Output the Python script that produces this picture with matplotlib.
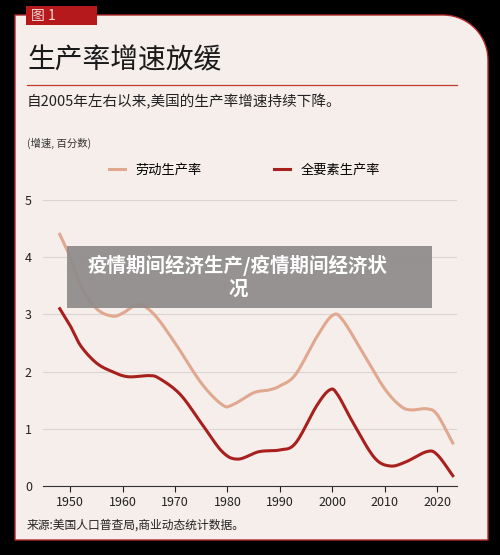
import matplotlib.pyplot as plt
from matplotlib.patches import PathPatch, Rectangle
from matplotlib.path import Path
import numpy as np

plt.rcParams['font.family'] = ['Noto Sans CJK SC', 'DejaVu Sans']

labor_years = [1948, 1950, 1952, 1955, 1958, 1960, 1963, 1966, 1970, 1975, 1979, 1981,
               1985, 1988, 1990, 1993, 1997, 2000, 2002, 2006, 2010, 2013, 2015, 2018, 2020, 2023]
labor_vals = [4.4, 4.0, 3.5, 3.1, 2.97, 3.02, 3.17, 3.0, 2.5, 1.8, 1.42, 1.42,
              1.63, 1.68, 1.75, 1.95, 2.6, 2.98, 2.9, 2.3, 1.7, 1.4, 1.33, 1.35, 1.25, 0.75]
tfp_years = [1948, 1950, 1952, 1955, 1958, 1961, 1965, 1967, 1971, 1975, 1979, 1982,
             1986, 1990, 1993, 1997, 1999.5, 2001, 2004, 2008, 2011, 2014, 2018, 2020, 2023]
tfp_vals = [3.1, 2.8, 2.45, 2.15, 2.0, 1.91, 1.93, 1.88, 1.6, 1.1, 0.6, 0.47,
            0.6, 0.63, 0.75, 1.4, 1.68, 1.6, 1.1, 0.5, 0.35, 0.42, 0.6, 0.55, 0.18]
xticks = [1950, 1960, 1970, 1980, 1990, 2000, 2010, 2020]

labor_c = '#e0a88f'
tfp_c = '#a8201e'
bg = '#f6eeeb'


def smooth(xs, ys, n=12):
    # catmull-rom through the read points, only for drawing a soft curve
    p = np.column_stack([xs, ys]).astype(float)
    p = np.vstack([p[0], p, p[-1]])
    out = []
    t = np.linspace(0, 1, n, endpoint=False)[:, None]
    for i in range(1, len(p) - 2):
        p0, p1, p2, p3 = p[i - 1], p[i], p[i + 1], p[i + 2]
        out.append(0.5 * ((2 * p1) + (-p0 + p2) * t + (2 * p0 - 5 * p1 + 4 * p2 - p3) * t ** 2
                          + (-p0 + 3 * p1 - 3 * p2 + p3) * t ** 3))
    out.append(p[-2][None])
    out = np.vstack(out)
    return out[:, 0], out[:, 1]


fig = plt.figure(figsize=(5, 5.55), dpi=100, facecolor='black')
W, H = 500, 555
def fx(px): return px / W
def fy(py): return 1 - py / H

r = 45
ang = np.linspace(np.pi / 2, 0, 20)
pts = [(15, 540), (15, 15), (488 - r, 15)]
pts += [(488 - r + r * np.cos(a), 15 + r - r * np.sin(a)) for a in ang]
pts += [(488, 540), (15, 540)]
verts = [(fx(x), fy(y)) for x, y in pts]
fig.patches.append(PathPatch(Path(verts, closed=True), transform=fig.transFigure,
                             facecolor=bg, edgecolor='#b02a2a', linewidth=1))
fig.patches.append(Rectangle((fx(26), fy(25)), fx(71), 19 / H, transform=fig.transFigure,
                             facecolor='#b5191c', edgecolor='none'))
fig.text(fx(31), fy(16), '图 1', color='#f3d6d6', fontsize=10, va='center')
fig.text(fx(27), fy(60), '生产率增速放缓', fontsize=20, fontweight='medium', va='center', color='#1a1a1a')
fig.add_artist(plt.Line2D([fx(27), fx(457)], [fy(85), fy(85)], transform=fig.transFigure,
                          color='#c0392b', linewidth=0.9))
fig.text(fx(27), fy(102), '自2005年左右以来,美国的生产率增速持续下降。', fontsize=10.5, va='center', color='#222')
fig.text(fx(27), fy(143), '(增速, 百分数)', fontsize=7.5, va='center', color='#333')

ax = fig.add_axes([fx(43), fy(486), 414 / W, 286 / H], zorder=5)
ax.set_facecolor(bg)
ax.plot(*smooth(labor_years, labor_vals), color=labor_c, lw=2.2, label='劳动生产率')
ax.plot(*smooth(tfp_years, tfp_vals), color=tfp_c, lw=2.2, label='全要素生产率')
ax.set_xlim(1944.8, 2023.8)
ax.set_ylim(0, 5)
ax.set_yticks(range(6))
ax.set_xticks(xticks)
ax.grid(axis='y', color='#dcd4d2', lw=0.8)
ax.set_axisbelow(True)
for s in ['top', 'right', 'left']:
    ax.spines[s].set_visible(False)
ax.spines['bottom'].set_color('#333')
ax.tick_params(axis='y', length=0, labelsize=9, pad=8, colors='#222')
ax.tick_params(axis='x', length=4, labelsize=9, colors='#222', direction='out')
ax.legend(loc='lower left', bbox_to_anchor=(0.13, 1.04), ncol=2, frameon=False,
          fontsize=9.5, handlelength=1.2, columnspacing=5.5)

fig.text(fx(27), fy(525), '来源:美国人口普查局,商业动态统计数据。', fontsize=8.5, va='center', color='#222')

ov = fig.add_axes([0, 0, 1, 1], zorder=10)
ov.set_axis_off()
ov.add_patch(Rectangle((fx(67), fy(308)), fx(365), 62 / H, transform=fig.transFigure,
                       facecolor='#8f8b8b', alpha=0.93, edgecolor='none'))
ov.text(fx(238), fy(277), '疫情期间经济生产/疫情期间经济状\n况', fontsize=14, fontweight='bold',
        color='white', ha='center', va='center', linespacing=1.25, transform=fig.transFigure)

fig.savefig('out.png', dpi=100, facecolor='black')
